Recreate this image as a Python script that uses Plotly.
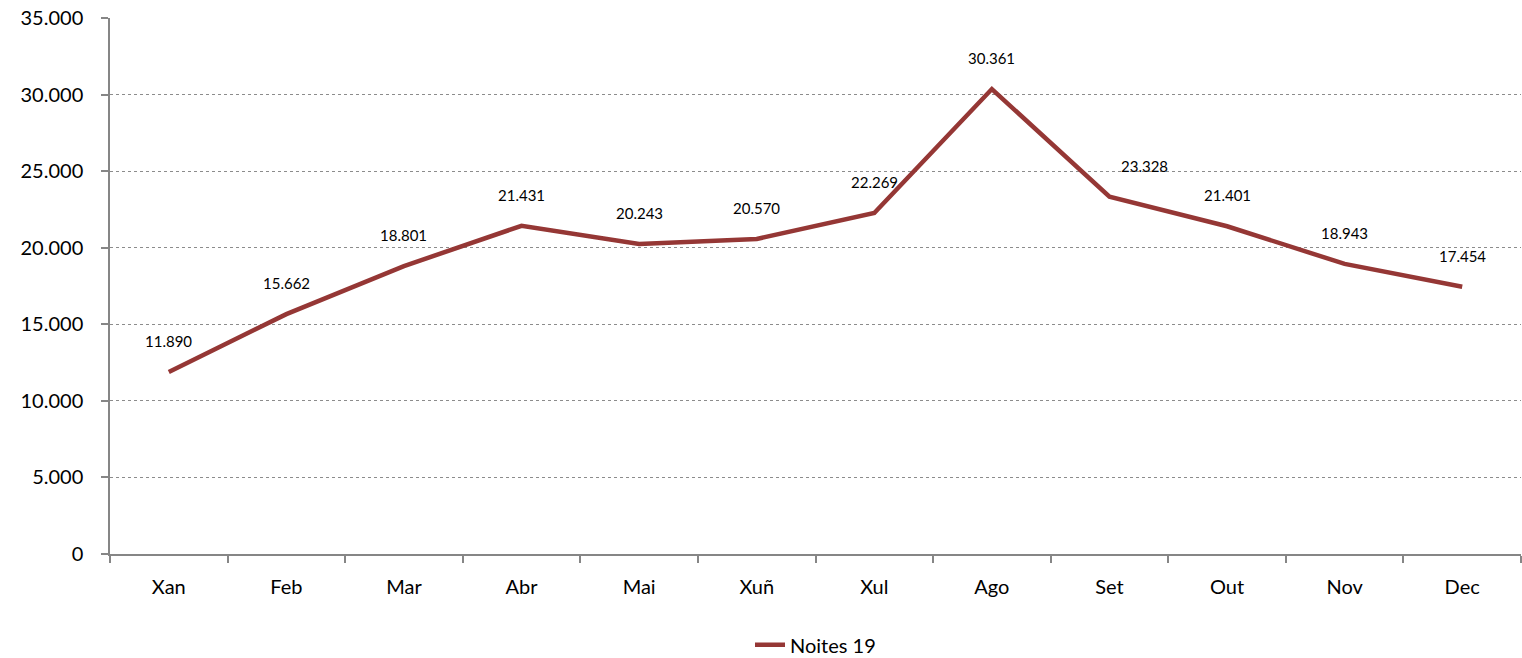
import plotly.graph_objects as go

months = ["Xan", "Feb", "Mar", "Abr", "Mai", "Xuñ", "Xul", "Ago", "Set", "Out", "Nov", "Dec"]
noites_19 = [11890, 15662, 18801, 21431, 20243, 20570, 22269, 30361, 23328, 21401, 18943, 17454]
label_xshift = [0, 0, 0, 0, 0, 0, 0, 0, 35, 0, 0, 0]
series_name = "Noites 19"

LINE = "#953735"
FONT = "Lato, 'Open Sans', sans-serif"

fig = go.Figure()
fig.add_trace(go.Scatter(
    x=months, y=noites_19, mode="lines", name=series_name,
    line=dict(color=LINE, width=4.5),
))

for m, v, xs in zip(months, noites_19, label_xshift):
    fig.add_annotation(
        x=m, y=v, text=f"{v:,}".replace(",", "."), showarrow=False,
        yshift=31, xshift=xs, font=dict(family=FONT, size=15, color="#000000"),
    )

fig.update_layout(
    width=1522, height=658,
    margin=dict(l=110, r=1, t=18, b=104, autoexpand=False),
    paper_bgcolor="white", plot_bgcolor="white",
    separators=",.",
    font=dict(family=FONT, size=20, color="#000000"),
    showlegend=True,
    legend=dict(orientation="h", x=0.5, xanchor="center", y=-0.133, yanchor="top",
                font=dict(family=FONT, size=20, color="#000000")),
)
fig.update_xaxes(
    type="category", range=[-0.5, 11.5], showgrid=False, showline=True,
    linecolor="#868686", linewidth=1.5,
    ticks="outside", tickson="boundaries", ticklen=7, tickcolor="#868686", tickwidth=1.5,
    ticklabelstandoff=14, tickfont=dict(family=FONT, size=20),
)
fig.update_yaxes(
    range=[0, 35000], dtick=5000, tickformat=",d",
    showgrid=True, gridcolor="#8c8c8c", griddash="dot", gridwidth=1,
    showline=True, linecolor="#868686", linewidth=1.5,
    ticks="outside", ticklen=7, tickcolor="#868686", tickwidth=1.5,
    ticklabelstandoff=14, ticklabeloverflow="allow",
    tickfont=dict(family=FONT, size=20), zeroline=False,
)

fig.write_html(
    "out.html",
    config={"displayModeBar": False},
    post_script="document.body.style.margin='0';document.body.style.overflow='hidden';",
)
